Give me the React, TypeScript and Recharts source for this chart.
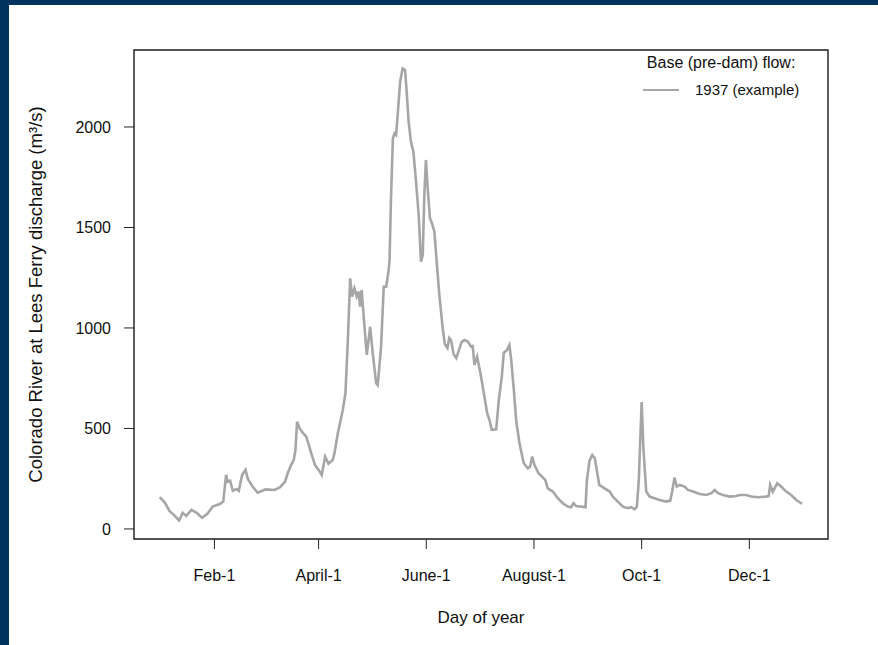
// Colorado River at Lees Ferry, 1937 daily discharge (pre-dam base flow)

import { LineChart, Line, XAxis, YAxis, ReferenceArea, Legend } from 'recharts';

const FONT = '"Liberation Sans", Arial, Helvetica, sans-serif';

// day of year
const days = [
  1, 4, 6.5, 9, 12, 14, 16, 19, 22, 25, 28, 31, 35, 37, 38.6, 39.5, 40.9, 42.4, 44.6, 45.8,
  47.7, 49.6, 51, 53.7, 56.5, 61, 66, 69, 72, 73.5, 75.4, 76.9, 77.9, 78.8, 80.2, 82, 84, 85.2,
  86.8, 89, 91, 92.8, 94.7, 96.6, 99, 100, 101.9, 104.7, 106.2, 107.5, 108.9, 110, 111.3, 112.6,
  113.7, 114.5, 115.4, 117, 118.3, 120.2, 121.7, 123.6, 124.5, 126.4, 127.9, 129.3, 130.7, 131.2,
  132, 133.1, 134, 134.9, 135.8, 137.2, 138.6, 140, 140.9, 142, 143.3, 144.7, 146.2, 147.7, 149,
  150, 150.9, 151.8, 152.8, 154.1, 155.2, 156.6, 157.9, 159.4, 161.3, 162.5, 164, 165, 166, 167.5,
  169, 170.5, 172, 173.6, 175.5, 177.4, 178.3, 179.3, 180.8, 182.7, 184.6, 186.5, 187.8, 189.1,
  191.6, 193.1, 194.8, 195.9, 197.8, 199.1, 200.1, 201.6, 202.9, 204.8, 207.2, 209.5, 210.8, 212,
  213.3, 215.6, 219.4, 220.8, 223.7, 226.5, 229.3, 232.2, 234, 235.4, 236.9, 239.7, 242.2, 243,
  244.5, 246, 247.5, 250, 253, 255.9, 257.7, 260.5, 263.4, 266.2, 268.1, 270, 271.3, 272.4, 274,
  275, 276.6, 278.5, 281.3, 284.1, 287.9, 290.2, 291.3, 292.6, 293.9, 295.5, 298.3, 300.2, 303.1,
  306.9, 310.7, 313.5, 315.4, 317.3, 320.1, 323.9, 327.6, 329.4, 333.2, 336.1, 339.8, 344.6, 346,
  346.8, 348.3, 350.8, 353, 355.9, 358.7, 361.6, 364.4, 365,
];

// discharge in m3/s
const flow = [
  158, 130, 90, 70, 42, 80, 65, 95, 80, 55, 75, 111, 124, 136, 269, 235, 240, 190, 199, 190,
  269, 294, 247, 210, 180, 197, 194, 207, 235, 277, 318, 343, 393, 534, 501, 479, 459, 426,
  377, 318, 294, 269, 360, 325, 343, 377, 476, 592, 675, 924, 1247, 1156, 1197, 1156,
  1181, 1106, 1189, 1006, 866, 1006, 874, 725, 716, 907, 1205, 1205, 1289, 1338,
  1640, 1944, 1968, 1960, 2060, 2225, 2292, 2284, 2176, 2026, 1927, 1877, 1728, 1562, 1330,
  1363, 1662, 1836, 1695, 1546, 1521, 1479, 1330, 1164, 999, 920, 900, 950, 940, 870,
  850, 890, 930, 940, 932, 907, 910, 816, 857, 775, 675, 576, 542, 493,
  496, 642, 758, 877, 891, 915, 841, 692, 542, 426, 327, 302, 310, 360,
  318, 277, 244, 202, 186, 153, 128, 111, 108, 128, 114, 111, 108, 244,
  340, 368, 350, 219, 202, 186, 161, 136, 111, 103, 108, 98, 111, 244, 632,
  400, 186, 161, 153, 144, 136, 141, 186, 255, 211, 219, 211, 194, 186,
  174, 169, 178, 194, 178, 169, 161, 164, 169, 169, 161, 158, 161, 164,
  219, 186, 227, 211, 186, 169, 144, 128, 128,
];

const monthTicks = [32, 91, 152, 213, 274, 335];
const monthLabels = ['Feb-1', 'April-1', 'June-1', 'August-1', 'Oct-1', 'Dec-1'];
const flowTicks = [0, 500, 1000, 1500, 2000];

const xDomain: [number, number] = [-13.56, 379.56];
const yDomain: [number, number] = [-50, 2383];

const data = days.map((d, i) => ({ day: d, flow: flow[i] }));

const LINE_COLOR = '#a6a6a6';
const INK = '#111';

function LegendBox({ payload }: { payload?: { value: string }[] }) {
  const name = payload?.[0]?.value ?? '1937 (example)';
  return (
    <div style={{ fontFamily: FONT, color: INK, lineHeight: '27px' }}>
      <div style={{ textAlign: 'center', fontSize: 16 }}>Base (pre-dam) flow:</div>
      <div style={{ display: 'flex', alignItems: 'center', fontSize: 15 }}>
        <span style={{ display: 'inline-block', width: 36, borderTop: `2.5px solid ${LINE_COLOR}`, marginRight: 16 }} />
        {name}
      </div>
    </div>
  );
}

function XTitle({ viewBox }: any) {
  const vb = viewBox ?? { x: 0, y: 0, width: 0 };
  return (
    <text x={vb.x + vb.width / 2} y={vb.y + 78} textAnchor="middle" dominantBaseline="central"
      fontFamily={FONT} fontSize={17} fill={INK}>
      Day of year
    </text>
  );
}

function YTitle({ viewBox }: any) {
  const vb = viewBox ?? { x: 0, y: 0, height: 0 };
  const cx = vb.x + 35;
  const cy = vb.y + vb.height / 2;
  return (
    <text x={cx} y={cy} transform={`rotate(-90 ${cx} ${cy})`} textAnchor="middle" dominantBaseline="central"
      fontFamily={FONT} fontSize={18.5} fill={INK}>
      Colorado River at Lees Ferry discharge  (m³/s)
    </text>
  );
}

export default function App() {
  const tickStyle = { fill: INK, fontSize: 16, fontFamily: FONT };
  return (
    <div style={{ position: 'fixed', left: 0, top: 0, width: 878, height: 645, background: '#00345f' }}>
      <div style={{ position: 'absolute', left: 9, top: 5, right: 0, bottom: 0, background: '#fff' }} />
      <div style={{ position: 'absolute', left: 0, top: 0 }}>
        <LineChart width={878} height={645} data={data} margin={{ top: 50, right: 50, left: 0, bottom: 0 }}>
          <XAxis
            dataKey="day"
            type="number"
            domain={xDomain}
            ticks={monthTicks}
            tickFormatter={(v: number) => monthLabels[monthTicks.indexOf(v)] ?? ''}
            axisLine={false}
            tickLine={{ stroke: '#222' }}
            tickSize={10}
            tickMargin={21}
            height={106}
            tick={tickStyle}
            interval={0}
            allowDataOverflow
            label={<XTitle />}
          />
          <YAxis
            type="number"
            domain={yDomain}
            ticks={flowTicks}
            axisLine={false}
            tickLine={{ stroke: '#222' }}
            tickSize={10}
            tickMargin={13}
            width={134}
            tick={tickStyle}
            interval={0}
            allowDataOverflow
            label={<YTitle />}
          />
          <ReferenceArea
            x1={xDomain[0]}
            x2={xDomain[1]}
            y1={yDomain[0]}
            y2={yDomain[1]}
            fill="none"
            stroke="#1a1a1a"
            strokeWidth={1.4}
            fillOpacity={0}
            ifOverflow="visible"
          />
          <Line
            type="linear"
            dataKey="flow"
            name="1937 (example)"
            stroke={LINE_COLOR}
            strokeWidth={2.6}
            dot={false}
            isAnimationActive={false}
          />
          <Legend
            layout="horizontal"
            verticalAlign="middle"
            align="center"
            content={<LegendBox />}
            wrapperStyle={{ top: 49, left: 643, width: 'auto' }}
          />
        </LineChart>
      </div>
    </div>
  );
}
